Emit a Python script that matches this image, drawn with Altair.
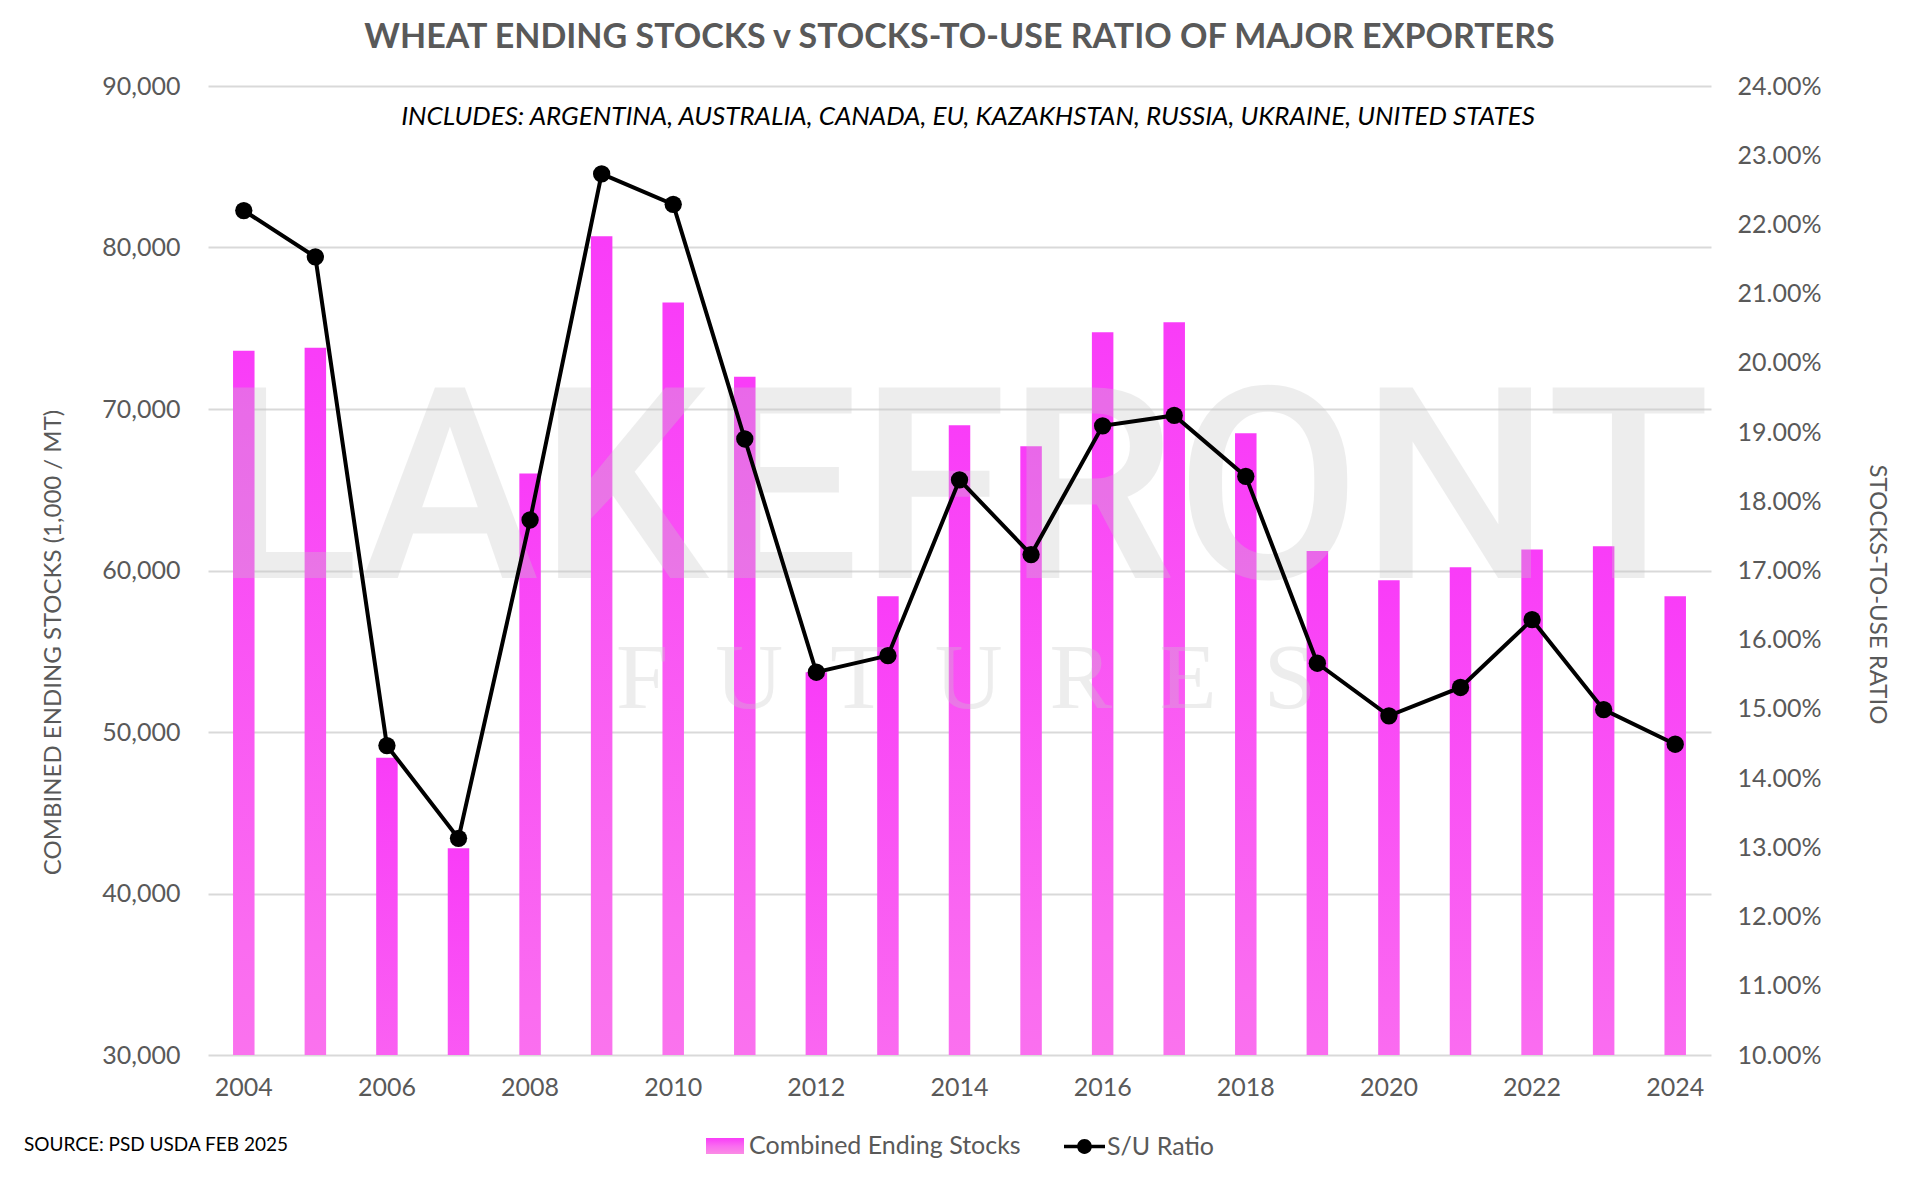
import altair as alt
import pandas as pd

# ---------------- data ----------------
years = ["2004", "2005", "2006", "2007", "2008", "2009", "2010", "2011", "2012", "2013",
         "2014", "2015", "2016", "2017", "2018", "2019", "2020", "2021", "2022", "2023", "2024"]
ending_stocks = [73600, 73800, 48400, 42800, 66000, 80700, 76600, 72000, 53700, 58400,
                 69000, 67700, 74750, 75370, 68500, 61200, 59400, 60200, 61300, 61500, 58400]
su_ratio = [0.2220, 0.2153, 0.1447, 0.1313, 0.1773, 0.2273, 0.2229, 0.1890, 0.1553, 0.1577,
            0.1831, 0.1723, 0.1909, 0.1924, 0.1836, 0.1566, 0.1490, 0.1531, 0.1629, 0.1499, 0.1449]

x_label_years = ["2004", "2006", "2008", "2010", "2012", "2014", "2016", "2018", "2020", "2022", "2024"]
left_ticks = [30000, 40000, 50000, 60000, 70000, 80000, 90000]
right_ticks = [0.10, 0.11, 0.12, 0.13, 0.14, 0.15, 0.16, 0.17, 0.18, 0.19, 0.20, 0.21, 0.22, 0.23, 0.24]

series_names = ["Combined Ending Stocks", "S/U Ratio"]
title_text = "WHEAT ENDING STOCKS v STOCKS-TO-USE RATIO OF MAJOR EXPORTERS"
subtitle_text = ["INCLUDES: ARGENTINA, AUSTRALIA, CANADA, EU, KAZAKHSTAN, RUSSIA, UKRAINE, UNITED STATES"]
source_text = ["SOURCE: PSD USDA FEB 2025"]
watermark_main = ["LAKEFRONT"]
watermark_sub = ["F\u00a0\u00a0U\u00a0\u00a0T\u00a0\u00a0U\u00a0\u00a0R\u00a0\u00a0E\u00a0\u00a0S"]

df = pd.DataFrame({"year": years, "stocks": ending_stocks, "ratio": su_ratio})

FONT = "Lato"
GRAY = "#595959"
W, H = 1503, 969

bar_gradient = alt.Gradient(
    gradient="linear",
    stops=[alt.GradientStop(color="#F93CF8", offset=0),
           alt.GradientStop(color="#FA6CF0", offset=0.5),
           alt.GradientStop(color="#FA8CE4", offset=1)],
    x1=0, x2=0, y1=0, y2=1,
)

x_enc = alt.X(
    "year:N", sort=years, title=None,
    scale=alt.Scale(paddingInner=0, paddingOuter=0),
    axis=alt.Axis(values=x_label_years, labelAngle=0, domain=False, ticks=False, grid=False,
                  labelFont=FONT, labelFontSize=25, labelColor=GRAY, labelPadding=20),
)

bars = alt.Chart(df).transform_calculate(
    bar_series="'Combined Ending Stocks'"
).mark_bar(size=21.5, color=bar_gradient, clip=True).encode(
    x=x_enc,
    y=alt.Y("stocks:Q",
            scale=alt.Scale(domain=[30000, 90000], zero=False, nice=False),
            axis=alt.Axis(values=left_ticks, format=",.0f", grid=True, gridColor="#D9D9D9", gridWidth=2,
                          domain=False, ticks=False, labelFont=FONT, labelFontSize=25,
                          labelColor=GRAY, labelPadding=28,
                          title="COMBINED ENDING STOCKS (1,000 / MT)", titleFont=FONT,
                          titleFontSize=24, titleFontWeight="normal", titleColor=GRAY,
                          titleAngle=270, titleX=-155, titleY=556, titleAlign="center",
                          titleBaseline="middle")),
    opacity=alt.Opacity("bar_series:N", scale=alt.Scale(domain=[series_names[0]], range=[1, 1]),
                        legend=alt.Legend(orient="none", legendX=498, legendY=1041, title=None,
                                          symbolType="M-1,-0.42H1V0.42H-1Z", symbolSize=1444,
                                          symbolStrokeWidth=0, labelFont=FONT, labelFontSize=25,
                                          labelColor=GRAY, labelOffset=5, labelLimit=500, padding=0)),
)

wm1 = alt.Chart(pd.DataFrame({"t": watermark_main})).mark_text(
    font="Roboto", fontSize=268, fontWeight=500, color="#C8C8C8", opacity=0.31,
    align="center", baseline="alphabetic"
).encode(text="t:N", x=alt.value(754), y=alt.value(492))

wm2 = alt.Chart(pd.DataFrame({"t": watermark_sub})).mark_text(
    font="Liberation Serif", fontSize=94, color="#C8C8C8", opacity=0.31, align="center", baseline="alphabetic"
).encode(text="t:N", x=alt.value(758), y=alt.value(622))

ratio_y = alt.Y("ratio:Q",
                scale=alt.Scale(domain=[0.10, 0.24], zero=False, nice=False),
                axis=alt.Axis(values=right_ticks, format=".2%", orient="right", grid=False,
                              domain=False, ticks=False, labelFont=FONT, labelFontSize=25,
                              labelColor=GRAY, labelPadding=26,
                              title="STOCKS-TO-USE RATIO", titleFont=FONT, titleFontSize=24,
                              titleFontWeight="normal", titleColor=GRAY, titleAngle=90,
                              titleX=165, titleY=508, titleAlign="center", titleBaseline="middle"))

line = alt.Chart(df).mark_line(color="#000000", strokeWidth=4).encode(x=x_enc, y=ratio_y)

dots = alt.Chart(df).transform_calculate(
    line_series="'S/U Ratio'"
).mark_circle(size=300, opacity=1).encode(
    x=x_enc,
    y=ratio_y,
    fill=alt.Fill("line_series:N", scale=alt.Scale(domain=[series_names[1]], range=["#000000"]),
                  legend=alt.Legend(orient="none", legendX=856, legendY=1040, title=None,
                                    symbolType="M-1,-0.085H1V0.085H-1ZM-0.36,0A0.36,0.36 0 1,1 0.36,0A0.36,0.36 0 1,1 -0.36,0Z",
                                    symbolSize=1681, symbolStrokeWidth=0, labelFont=FONT,
                                    labelFontSize=25, labelColor=GRAY, labelOffset=2,
                                    labelLimit=500, padding=0)),
)

ratio_layer = alt.layer(line, dots)

subtitle = alt.Chart(pd.DataFrame({"t": subtitle_text})).mark_text(
    font=FONT, fontSize=26, fontStyle="italic", color="#000000", align="center", baseline="middle"
).encode(text="t:N", x=alt.value(760), y=alt.value(31))

source = alt.Chart(pd.DataFrame({"t": source_text})).mark_text(
    font=FONT, fontSize=19, color="#000000", align="left", baseline="middle"
).encode(text="t:N", x=alt.value(-184), y=alt.value(1059))

chart = alt.layer(bars, wm1, wm2, ratio_layer, subtitle, source).resolve_scale(
    y="independent", opacity="independent", fill="independent"
).properties(
    width=W, height=H,
    padding={"left": 200, "top": 78, "right": 190, "bottom": 110},
    autosize=alt.AutoSizeParams(type="none"),
    background="white",
    title=alt.TitleParams(text=title_text, font=FONT, fontSize=34, fontWeight="bold",
                          color=GRAY, anchor="middle", offset=19),
).configure_view(stroke=None)

chart.save("out.html", embed_options={"renderer": "svg", "actions": False})
